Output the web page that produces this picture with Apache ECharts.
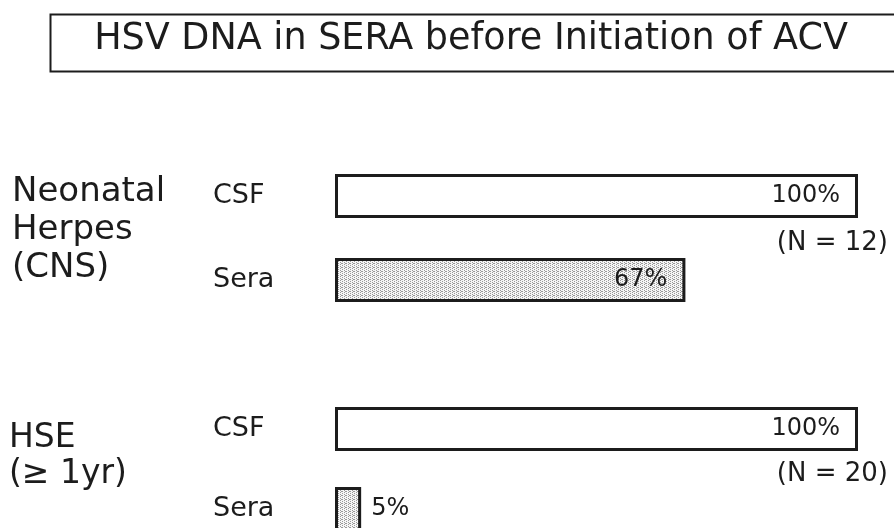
<!DOCTYPE html>
<html>
<head>
<meta charset="utf-8">
<script src="https://cdn.jsdelivr.net/npm/echarts@6/dist/echarts.min.js"></script>
<style>
html,body{margin:0;padding:0;background:#fff;}
#chart{width:894px;height:528px;}
</style>
</head>
<body>
<div id="chart"></div>
<script>
const titleText = 'HSV DNA in SERA before Initiation of ACV';
const categories = ['CSF', 'Sera'];
const groupLabels = ['Neonatal\nHerpes\n(CNS)', 'HSE\n(≥ 1yr)'];
const neonatalValues = [100, 67];
const hseValues = [100, 5];
const sampleSizes = [12, 20];

const FONT = '"DejaVu Sans", "Liberation Sans", sans-serif';
const INK = '#1c1c1c';

// stipple pattern for the sera bars
const pat = document.createElement('canvas');
pat.width = 4; pat.height = 4;
const pctx = pat.getContext('2d');
pctx.fillStyle = '#f6f6f6';
pctx.fillRect(0, 0, 4, 4);
pctx.fillStyle = '#9a9a9a';
[[0,0],[2,1],[0,2],[2,3],[1,3]].forEach(function(p){ pctx.fillRect(p[0], p[1], 1, 1); });
const stipple = { image: pat, repeat: 'repeat' };

function barData(values) {
  return values.map(function (v, i) {
    const item = {
      value: v,
      itemStyle: { color: i === 0 ? '#ffffff' : stipple }
    };
    if (v < 15) {
      item.label = { position: 'right', distance: 10 };
    }
    return item;
  });
}

const chart = echarts.init(document.getElementById('chart'));
const yAxisBase = {
  type: 'category',
  data: categories,
  inverse: true,
  boundaryGap: false,
  axisLine: { show: false },
  axisTick: { show: false },
  splitLine: { show: false },
  axisLabel: {
    align: 'left',
    margin: 122,
    fontSize: 27,
    fontFamily: FONT,
    color: INK,
    padding: [0, 0, 5, 0]
  }
};
const labelBase = {
  show: true,
  position: 'insideRight',
  distance: 18,
  formatter: '{c}%',
  fontSize: 24,
  fontFamily: FONT,
  color: INK
};
const barStyle = { borderColor: INK, borderWidth: 3 };

chart.setOption({
  animation: false,
  backgroundColor: '#ffffff',
  grid: [
    { left: 335, width: 523, top: 196, height: 84 },
    { left: 335, width: 523, top: 429, height: 80 }
  ],
  xAxis: [
    { gridIndex: 0, type: 'value', min: 0, max: 100, show: false },
    { gridIndex: 1, type: 'value', min: 0, max: 100, show: false }
  ],
  yAxis: [
    Object.assign({ gridIndex: 0 }, yAxisBase),
    Object.assign({ gridIndex: 1 }, yAxisBase)
  ],
  series: [
    {
      type: 'bar', xAxisIndex: 0, yAxisIndex: 0, barWidth: 44, clip: false,
      itemStyle: barStyle, label: labelBase, data: barData(neonatalValues)
    },
    {
      type: 'bar', xAxisIndex: 1, yAxisIndex: 1, barWidth: 44, clip: false,
      itemStyle: barStyle, label: labelBase, data: barData(hseValues)
    }
  ],
  graphic: [
    {
      type: 'rect', left: 48, top: 12, silent: true,
      shape: { width: 900, height: 57 },
      style: { fill: 'none', stroke: INK, lineWidth: 2 }
    },
    {
      type: 'text', x: 471, y: 40, silent: true,
      style: {
        text: titleText, fontSize: 36.5, fontFamily: FONT, fill: INK,
        textAlign: 'center', textVerticalAlign: 'middle'
      }
    },
    {
      type: 'text', x: 12, y: 230, silent: true,
      style: {
        text: groupLabels[0], fontSize: 34, fontFamily: FONT, fill: INK,
        lineHeight: 38, textAlign: 'left', textVerticalAlign: 'middle'
      }
    },
    {
      type: 'text', x: 9, y: 456, silent: true,
      style: {
        text: groupLabels[1], fontSize: 33, fontFamily: FONT, fill: INK,
        lineHeight: 36, textAlign: 'left', textVerticalAlign: 'middle'
      }
    },
    {
      type: 'text', x: 888, y: 243, silent: true,
      style: {
        text: '(N = ' + sampleSizes[0] + ')', fontSize: 26, fontFamily: FONT, fill: INK,
        textAlign: 'right', textVerticalAlign: 'middle'
      }
    },
    {
      type: 'text', x: 888, y: 474, silent: true,
      style: {
        text: '(N = ' + sampleSizes[1] + ')', fontSize: 26, fontFamily: FONT, fill: INK,
        textAlign: 'right', textVerticalAlign: 'middle'
      }
    }
  ]
});
</script>
</body>
</html>
